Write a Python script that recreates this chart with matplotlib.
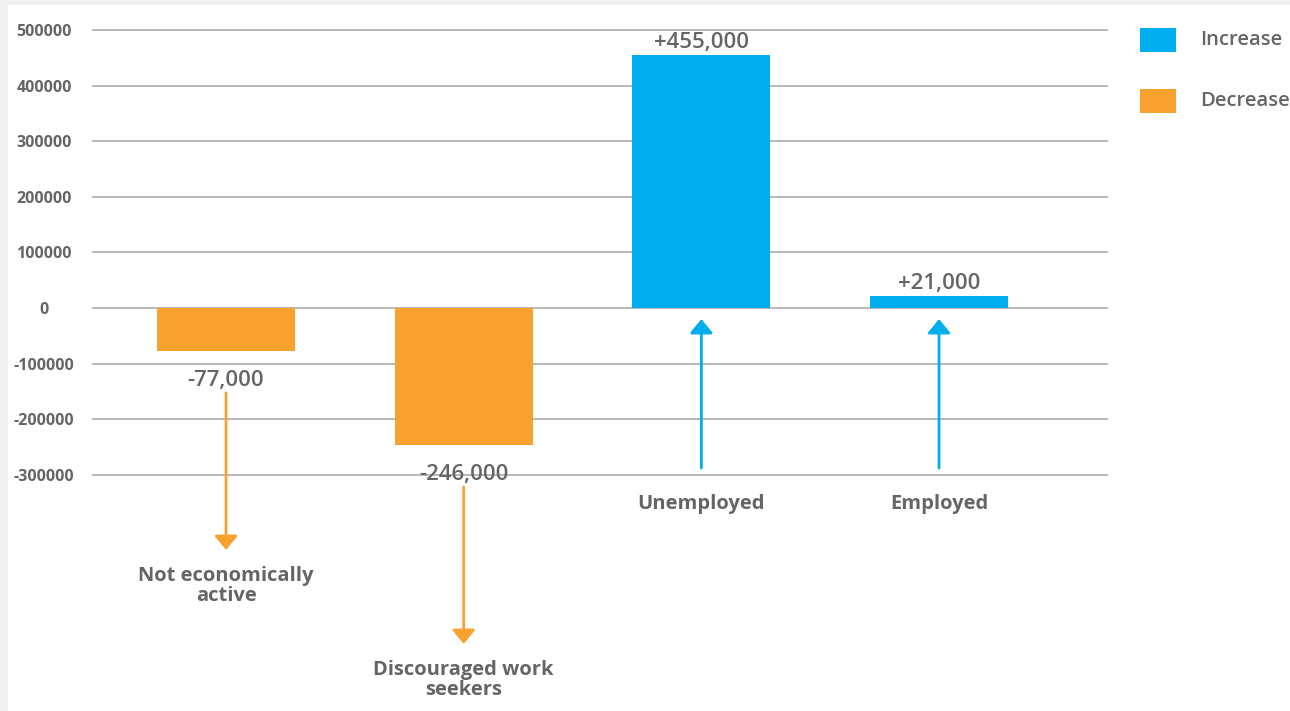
import matplotlib
matplotlib.use("Agg")
import matplotlib.pyplot as plt
from matplotlib.patches import Rectangle
from matplotlib.transforms import offset_copy

# data
categories = ["Not economically\nactive", "Discouraged work\nseekers", "Unemployed", "Employed"]
values = [-77000, -246000, 455000, 21000]
value_labels = ["-77,000", "-246,000", "+455,000", "+21,000"]
yticks = [-300000, -200000, -100000, 0, 100000, 200000, 300000, 400000, 500000]
legend_labels = ["Increase", "Decrease"]

BLUE = "#00adee"
ORANGE = "#f9a12e"
TXT = "#656565"
GRID = "#b2b2b2"

plt.rcParams['font.family'] = ['Open Sans', 'DejaVu Sans']

W, H = 1290, 711
fig = plt.figure(figsize=(W / 100, H / 100), dpi=100, facecolor="#f0f0f0")
# white panel behind everything
fig.patches.append(Rectangle((8 / W, 0), 1, 1 - 5 / H, transform=fig.transFigure,
                             facecolor="white", edgecolor="none", zorder=-5))

ax = fig.add_axes([92 / W, 0, (1108 - 92) / W, 1 - 19 / H])
ax.set_facecolor("none")
px = 100000 / 55.625
ax.set_ylim(-(711 - 308.1) * px, (308.1 - 19) * px)
ax.set_xlim(-0.564, 3.711)

colors = [BLUE if v > 0 else ORANGE for v in values]
x = list(range(len(values)))
ax.bar(x, values, width=0.58, color=colors, zorder=2)

ax.set_yticks(yticks)
ax.set_yticklabels([str(t) for t in yticks])
ax.grid(axis="y", color=GRID, lw=1.3, zorder=1)
ax.tick_params(axis="y", length=0, pad=34.5, labelsize=11.5, labelcolor=TXT)
for lab in ax.get_yticklabels():
    lab.set_horizontalalignment("center")
    lab.set_fontweight("bold")
ax.set_xticks([])
for s in ax.spines.values():
    s.set_visible(False)


def shifted(dy):
    return offset_copy(ax.transData, fig=fig, x=0, y=dy, units="dots")


arrow_style = "-|>,head_width=0.7,head_length=0.85"
for i, v in enumerate(values):
    if v < 0:
        ax.text(i, v, value_labels[i], transform=shifted(-30), ha="center", va="center",
                fontsize=16, color=TXT, fontweight="semibold")
        ax.annotate("", xy=(i, v), xycoords=shifted(-199), xytext=(i, v),
                    textcoords=shifted(-42),
                    arrowprops=dict(arrowstyle=arrow_style, color=ORANGE, lw=2,
                                    shrinkA=0, shrinkB=0))
        ax.text(i, v, categories[i], transform=shifted(-215), ha="center", va="top",
                fontsize=14.5, color=TXT, fontweight="bold", linespacing=1.0)
    else:
        ax.text(i, v, value_labels[i], transform=shifted(13), ha="center", va="center",
                fontsize=16, color=TXT, fontweight="semibold")
        ax.annotate("", xy=(i, 0), xycoords=shifted(-11), xytext=(i, 0),
                    textcoords=shifted(-160),
                    arrowprops=dict(arrowstyle=arrow_style, color=BLUE, lw=2,
                                    shrinkA=0, shrinkB=0))
        ax.text(i, 0, categories[i], transform=shifted(-196), ha="center", va="center",
                fontsize=14.5, color=TXT, fontweight="bold")

# legend
for k, (lab, c) in enumerate(zip(legend_labels, [BLUE, ORANGE])):
    top = 28 + k * 61
    fig.patches.append(Rectangle((1140 / W, 1 - (top + 24) / H), 36 / W, 24 / H,
                                 transform=fig.transFigure, facecolor=c, edgecolor="none"))
    fig.text(1200 / W, 1 - (top + 12) / H, lab, ha="left", va="center",
             fontsize=14.5, color=TXT, fontweight="semibold")

fig.savefig("out.png", dpi=100, facecolor=fig.get_facecolor())
